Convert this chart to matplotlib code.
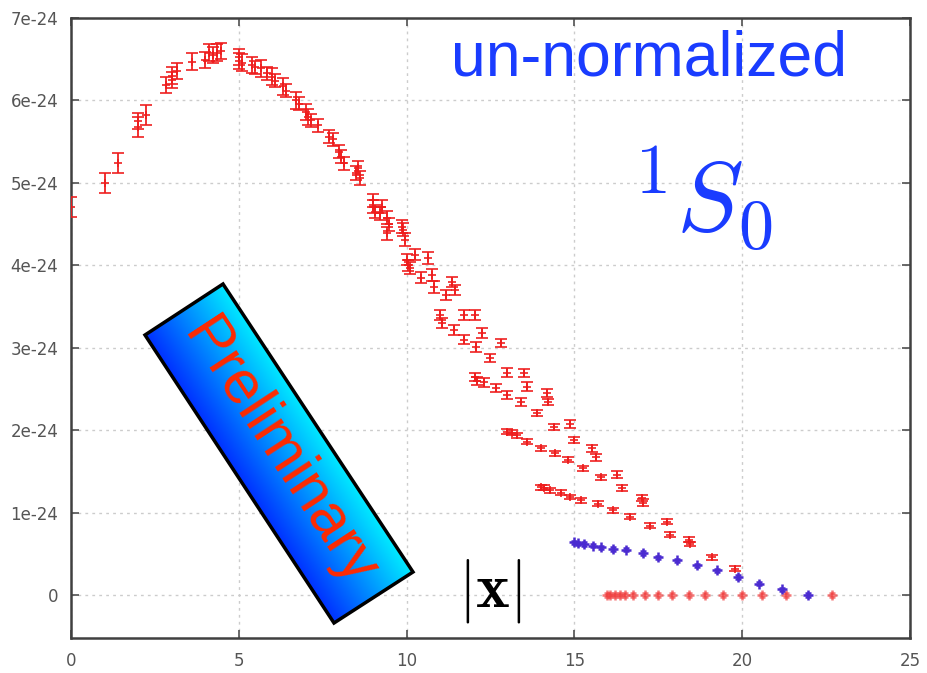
import numpy as np
import matplotlib.pyplot as plt
from matplotlib.colors import LinearSegmentedColormap
from matplotlib.patches import Polygon
from matplotlib.ticker import FuncFormatter

plt.rcParams['mathtext.fontset'] = 'cm'

# wave function amplitude (units of 1e-24) vs |x|, all lattice points
red_x = [0.0, 1.0, 1.41, 2.0, 2.0, 2.24, 2.83, 3.0, 3.0, 3.16, 3.61, 4.0, 4.12, 4.24,
         4.36, 4.47, 5.0, 5.0, 5.10, 5.39, 5.48, 5.66, 5.83, 6.0, 6.08, 6.32, 6.40,
         6.71, 6.78, 7.0, 7.07, 7.14, 7.35, 7.68, 7.81, 8.0, 8.06, 8.12, 8.49, 8.54,
         8.60, 9.0, 9.0, 9.06, 9.22, 9.27, 9.43, 9.43, 9.49, 9.85, 9.90, 9.95, 10.0,
         10.05, 10.1, 10.25, 10.44, 10.63, 10.77, 10.82, 11.0, 11.05, 11.18, 11.36,
         11.45, 11.40, 11.70, 11.70, 12.04, 12.08, 12.25, 12.5, 12.8, 12.04, 12.1,
         12.3, 12.65, 13.0, 13.0, 13.42, 13.5, 13.6, 13.9, 14.18, 14.2, 14.4, 14.87,
         15.0, 15.52, 15.65, 16.28, 16.43, 17.0, 17.03, 17.75, 18.41, 19.1, 19.8,
         13.0, 13.15, 13.3, 13.6, 14.0, 14.42, 14.8, 15.25, 15.8,
         14.0, 14.1, 14.27, 14.6, 14.87, 15.2, 15.7, 16.15, 16.65, 17.25, 17.85, 18.45]
red_y = [4.71, 5.00, 5.24, 5.68, 5.75, 5.82, 6.19, 6.25, 6.30, 6.36, 6.47, 6.49, 6.58, 6.55,
         6.58, 6.60, 6.53, 6.48, 6.46, 6.43, 6.40, 6.39, 6.33, 6.29, 6.24, 6.17, 6.12,
         6.00, 5.96, 5.86, 5.80, 5.76, 5.70, 5.56, 5.53, 5.38, 5.32, 5.24, 5.12, 5.18,
         5.06, 4.79, 4.71, 4.65, 4.63, 4.71, 4.58, 4.39, 4.50, 4.47, 4.43, 4.31, 4.07,
         4.00, 3.97, 4.13, 3.85, 4.09, 3.88, 3.74, 3.40, 3.30, 3.64, 3.80,
         3.70, 3.22, 3.40, 3.10, 3.40, 3.01, 3.18, 2.88, 3.06, 2.65, 2.60,
         2.58, 2.51, 2.70, 2.43, 2.34, 2.69, 2.53, 2.21, 2.45, 2.34, 2.04, 2.08,
         1.88, 1.78, 1.67, 1.46, 1.30, 1.18, 1.12, 0.89, 0.67, 0.46, 0.32,
         1.98, 1.97, 1.94, 1.86, 1.78, 1.72, 1.64, 1.54, 1.43,
         1.31, 1.30, 1.27, 1.24, 1.19, 1.15, 1.11, 1.03, 0.95, 0.84, 0.73, 0.62]
red_err = [0.12, 0.12, 0.12, 0.12, 0.10, 0.12, 0.10, 0.10, 0.10, 0.10, 0.10, 0.10, 0.10, 0.10,
           0.10, 0.10, 0.10, 0.10, 0.10, 0.10, 0.08, 0.10, 0.08, 0.10, 0.08, 0.10, 0.08,
           0.10, 0.08, 0.10, 0.10, 0.08, 0.08, 0.08, 0.08, 0.08, 0.08, 0.08, 0.08, 0.08,
           0.08, 0.08, 0.08, 0.08, 0.08, 0.08, 0.08, 0.08, 0.08, 0.08, 0.08, 0.08, 0.07,
           0.07, 0.07, 0.07, 0.07, 0.07, 0.07, 0.07, 0.06, 0.06, 0.06, 0.06,
           0.06, 0.06, 0.06, 0.06, 0.06, 0.06, 0.06, 0.05, 0.05, 0.05, 0.05,
           0.05, 0.05, 0.05, 0.05, 0.05, 0.05, 0.05, 0.04, 0.05, 0.04, 0.04, 0.05,
           0.04, 0.04, 0.04, 0.04, 0.04, 0.04, 0.04, 0.03, 0.03, 0.03, 0.03,
           0.03, 0.03, 0.03, 0.03, 0.03, 0.03, 0.03, 0.03, 0.03,
           0.03, 0.03, 0.03, 0.03, 0.03, 0.03, 0.03, 0.03, 0.03, 0.03, 0.03, 0.03]

# boundary points
blue_x = [15.0, 15.1, 15.3, 15.55, 15.8, 16.15, 16.55, 17.05, 17.5, 18.05, 18.65,
          19.25, 19.87, 20.5, 21.2, 21.95]
blue_y = [0.64, 0.63, 0.62, 0.60, 0.58, 0.56, 0.55, 0.51, 0.46, 0.42, 0.36,
          0.30, 0.22, 0.14, 0.07, 0.0]
blue_err = [0.02] * len(blue_x)

zero_x = [15.97, 16.06, 16.2, 16.36, 16.5, 16.75, 17.1, 17.5, 17.9, 18.4, 18.9,
          19.43, 20.0, 20.6, 21.3, 22.67]
zero_y = [0.0] * len(zero_x)

xticks = [0, 5, 10, 15, 20, 25]
yticks = [0, 1, 2, 3, 4, 5, 6, 7]

fig = plt.figure(figsize=(9.28, 6.73), dpi=100)
ax = fig.add_axes([71 / 928, 1 - 638 / 673, (910 - 71) / 928, (638 - 18) / 673])

red = '#ee1c1c'
ax.errorbar(red_x, red_y, yerr=red_err, fmt='+', color=red, ecolor=red, ms=6,
            mew=1.3, elinewidth=1.4, capsize=4, capthick=1.4, alpha=0.9, zorder=3)
ax.errorbar(blue_x, blue_y, yerr=blue_err, fmt='+', color='#4a2bd0', ecolor='#4a2bd0',
            ms=7, mew=1.8, elinewidth=1.3, capsize=2, zorder=4)
ax.errorbar(zero_x, zero_y, yerr=[0.02] * len(zero_x), fmt='+', color='#f04040',
            ecolor='#f04040', ms=7, mew=1.8, elinewidth=1.3, capsize=2, alpha=0.7, zorder=3)

ax.set_xlim(0, 25)
ax.set_ylim(-0.52, 7)
ax.set_xticks(xticks)
ax.set_yticks(yticks)
ax.yaxis.set_major_formatter(FuncFormatter(lambda v, p: '0' if v == 0 else f'{int(v)}e-24'))
ax.grid(True, color='#cccccc', linestyle=(0, (2, 3)), linewidth=1.0)
ax.tick_params(direction='in', length=6, width=1.2, colors='#505050', labelsize=12,
               top=True, right=True, labelcolor='#555555')
ax.tick_params(axis='x', pad=10)
ax.tick_params(axis='y', pad=9)
for s in ax.spines.values():
    s.set_color('#404040')
    s.set_linewidth(1.8)

# overlay in pixel coordinates for the labels and the banner
ov = fig.add_axes([0, 0, 1, 1], zorder=5)
ov.set_xlim(0, 928)
ov.set_ylim(673, 0)
ov.axis('off')
ov.patch.set_alpha(0)

ov.text(649, 75, 'un-normalized', fontsize=45, color='#1a3cff',
        family='Liberation Sans', ha='center', va='baseline')
ov.text(702, 232, r'$^1S_0$', fontsize=72, color='#1a3cff', ha='center', va='baseline')
ov.text(490, 591, r'$|\mathbf{x}|$', fontsize=46, color='black', ha='center', va='center')

corners = np.array([[145, 335], [223, 284], [413, 572], [334, 623]])
banner = Polygon(corners, closed=True, facecolor='none', edgecolor='black', lw=2.5, zorder=7)
ov.add_patch(banner)

x0, y0 = corners.min(axis=0)
x1, y1 = corners.max(axis=0)
gx, gy = np.meshgrid(np.linspace(x0, x1, 300), np.linspace(y0, y1, 300))
across = corners[1] - corners[0]
t = ((gx - corners[0][0]) * across[0] + (gy - corners[0][1]) * across[1]) / (across ** 2).sum()
cmap = LinearSegmentedColormap.from_list('banner', ['#0030ff', '#00e8ff'])
im = ov.imshow(np.clip(t, 0, 1), cmap=cmap, extent=(x0, x1, y1, y0), origin='upper',
               aspect='auto', zorder=6, vmin=0, vmax=1)
clip = Polygon(corners, closed=True, transform=ov.transData)
im.set_clip_path(clip)

cx, cy = corners.mean(axis=0)
ov.text(cx, cy, 'Preliminary', fontsize=44, color='#ff2a00', family='Liberation Sans',
        rotation=-56.7, rotation_mode='anchor', ha='center', va='center', zorder=8)

fig.savefig('out.png', dpi=100)
